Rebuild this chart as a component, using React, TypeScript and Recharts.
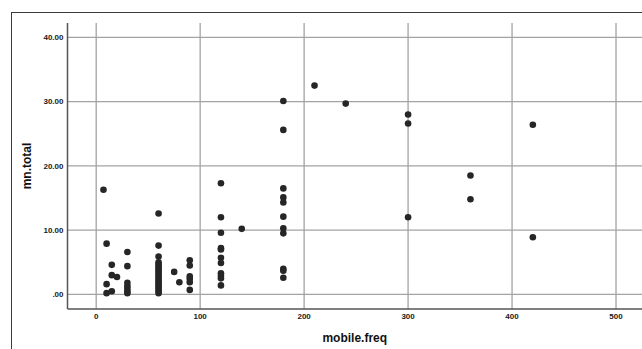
import React from 'react';
import { ScatterChart, Scatter, XAxis, YAxis, CartesianGrid } from 'recharts';

// mobile.freq levels and the mn.total values observed at each level
const freqLevels = [7, 10, 15, 20, 30, 60, 75, 80, 90, 120, 140, 180, 210, 240, 300, 360, 420];
const totalsAt7 = [16.3];
const totalsAt10 = [7.9, 1.6, 0.2];
const totalsAt15 = [4.6, 3.0, 0.5];
const totalsAt20 = [2.7];
const totalsAt30 = [6.6, 4.4, 1.8, 1.3, 0.9, 0.5, 0.2];
const totalsAt60 = [12.6, 7.6, 5.9, 5.0, 4.7, 4.4, 4.1, 3.8, 3.5, 3.2, 2.9, 2.6, 2.3, 2.0, 1.7, 1.4, 1.1, 0.8, 0.5, 0.2];
const totalsAt75 = [3.5];
const totalsAt80 = [1.9];
const totalsAt90 = [5.3, 4.5, 2.8, 2.4, 1.9, 0.7];
const totalsAt120 = [17.3, 12.0, 9.6, 7.2, 7.0, 5.7, 4.9, 3.3, 2.9, 2.5, 1.4];
const totalsAt140 = [10.2];
const totalsAt180 = [30.1, 25.6, 16.5, 15.1, 14.3, 12.1, 10.3, 9.5, 4.0, 3.7, 2.6];
const totalsAt210 = [32.5];
const totalsAt240 = [29.7];
const totalsAt300 = [28.0, 26.6, 12.0];
const totalsAt360 = [18.5, 14.8];
const totalsAt420 = [26.4, 8.9];

const totalsByLevel = [
  totalsAt7, totalsAt10, totalsAt15, totalsAt20, totalsAt30, totalsAt60, totalsAt75, totalsAt80,
  totalsAt90, totalsAt120, totalsAt140, totalsAt180, totalsAt210, totalsAt240, totalsAt300,
  totalsAt360, totalsAt420,
];

const xTicks = [0, 100, 200, 300, 400, 500];
const yTicks = [0, 10, 20, 30, 40];

const points = freqLevels.flatMap((freq, i) =>
  totalsByLevel[i].map((total) => ({ freq, total }))
);

const font = 'Liberation Sans, Arial, sans-serif';
const tickStyle = { fontSize: 8, fontWeight: 'bold', fill: '#1a1a1a', fontFamily: font };

const formatY = (v: number) => v.toFixed(2).replace(/^0/, '');

const YLabel = (props: any) => {
  const vb = props.viewBox || { x: 0, y: 23, width: 67, height: 286 };
  const x = 27;
  const y = vb.y + vb.height / 2;
  return (
    <text
      x={x}
      y={y}
      transform={`rotate(-90 ${x} ${y})`}
      textAnchor="middle"
      dominantBaseline="central"
      fontSize={12}
      fontWeight="bold"
      fill="#111"
      fontFamily={font}
    >
      mn.total
    </text>
  );
};

const Dot = (props: any) => <circle cx={props.cx} cy={props.cy} r={3.3} fill="#262626" />;

export default function App() {
  return (
    <div style={{ position: 'relative', width: 642, height: 349, background: '#fff', overflow: 'hidden' }}>
      <style>{`body{margin:0;background:#fff}`}</style>
      <div
        style={{
          position: 'absolute',
          left: 11,
          top: 12,
          width: 700,
          height: 400,
          borderLeft: '1.5px solid #3a3a3a',
          borderTop: '1.5px solid #3a3a3a',
        }}
      />
      <ScatterChart
        width={642}
        height={349}
        margin={{ top: 23, right: 0, bottom: 0, left: 0 }}
        style={{ position: 'absolute', left: 0, top: 0 }}
      >
        <CartesianGrid stroke="#a3a3a3" strokeWidth={1.3} syncWithTicks />
        <XAxis
          type="number"
          dataKey="freq"
          domain={[-27.6, 525]}
          ticks={xTicks}
          allowDataOverflow
          height={40}
          tickSize={0}
          tickMargin={4}
          tick={tickStyle}
          axisLine={{ stroke: '#555', strokeWidth: 1.5 }}
          label={{
            value: 'mobile.freq',
            position: 'insideBottom',
            offset: 7,
            fontSize: 12,
            fontWeight: 'bold',
            fill: '#111',
            fontFamily: font,
          }}
        />
        <YAxis
          type="number"
          dataKey="total"
          domain={[-2.27, 42.24]}
          ticks={yTicks}
          allowDataOverflow
          width={67.5}
          tickSize={0}
          tickMargin={4}
          tick={tickStyle}
          tickFormatter={formatY}
          axisLine={{ stroke: '#555', strokeWidth: 1.5 }}
          label={<YLabel />}
        />
        <Scatter data={points} shape={<Dot />} isAnimationActive={false} />
      </ScatterChart>
    </div>
  );
}
